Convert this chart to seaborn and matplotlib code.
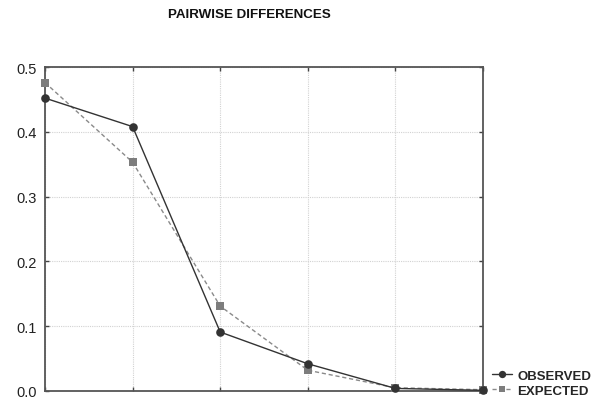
import matplotlib
matplotlib.use("Agg")
import matplotlib.pyplot as plt
import seaborn as sns
import pandas as pd
import numpy as np

differences = [0, 1, 2, 3, 4, 5]
observed = [0.452, 0.408, 0.091, 0.042, 0.004, 0.001]
expected = [0.476, 0.353, 0.131, 0.032, 0.005, 0.002]
yticks = [0.0, 0.1, 0.2, 0.3, 0.4, 0.5]
ytick_labels = ["0.0", "0.1", "0.2", "0.3", "0.4", "0.5"]

sns.set_style("white")
plt.rcParams['font.family'] = ['Liberation Sans', 'DejaVu Sans']

fig = plt.figure(figsize=(5.97, 4.02), dpi=100)
ax = fig.add_axes([45/597, 1-392/402, (483-45)/597, (392-68)/402])

df_obs = pd.DataFrame({"x": differences, "y": observed})
df_exp = pd.DataFrame({"x": differences, "y": expected})

sns.lineplot(data=df_exp, x="x", y="y", ax=ax, color="#8a8a8a", linestyle=(0, (3, 2)),
             linewidth=1.0, marker="s", markersize=5.8, markeredgewidth=0,
             markerfacecolor="#7d7d7d", label="EXPECTED", clip_on=False, zorder=3)
sns.lineplot(data=df_obs, x="x", y="y", ax=ax, color="#333333", linewidth=1.0,
             marker="o", markersize=6.2, markeredgewidth=0, markerfacecolor="#333333",
             label="OBSERVED", clip_on=False, zorder=4)

ax.set_xlim(0, 5)
ax.set_ylim(0, 0.5)
ax.set_xticks(differences)
ax.set_xticklabels([])
ax.set_yticks(yticks)
ax.set_yticklabels(ytick_labels, fontsize=10.5, color="#222222")
ax.set_xlabel("")
ax.set_ylabel("")
ax.grid(True, color="#d2d2d2", linestyle=(0, (1, 1)), linewidth=0.8)
ax.tick_params(axis="both", direction="in", length=3, width=1, color="#444444",
               top=True, right=True, bottom=True, left=True, pad=6)
for s in ax.spines.values():
    s.set_color("#555555")
    s.set_linewidth(1.3)

handles, labels = ax.get_legend_handles_labels()
order = [labels.index("OBSERVED"), labels.index("EXPECTED")]
leg = fig.legend([handles[i] for i in order], [labels[i] for i in order],
                 loc="lower left", bbox_to_anchor=(488/597, 0), frameon=False,
                 prop={"weight": "bold", "size": 9.5}, handlelength=1.5,
                 handletextpad=0.4, labelspacing=0.22, borderpad=0.1,
                 borderaxespad=0.2, markerscale=0.85)
if ax.get_legend():
    ax.get_legend().remove()

fig.text(249/597, 1-15/402, "PAIRWISE DIFFERENCES", ha="center", va="center",
         fontsize=9.6, fontweight="bold", color="#111111")

fig.savefig("out.png", dpi=100)
